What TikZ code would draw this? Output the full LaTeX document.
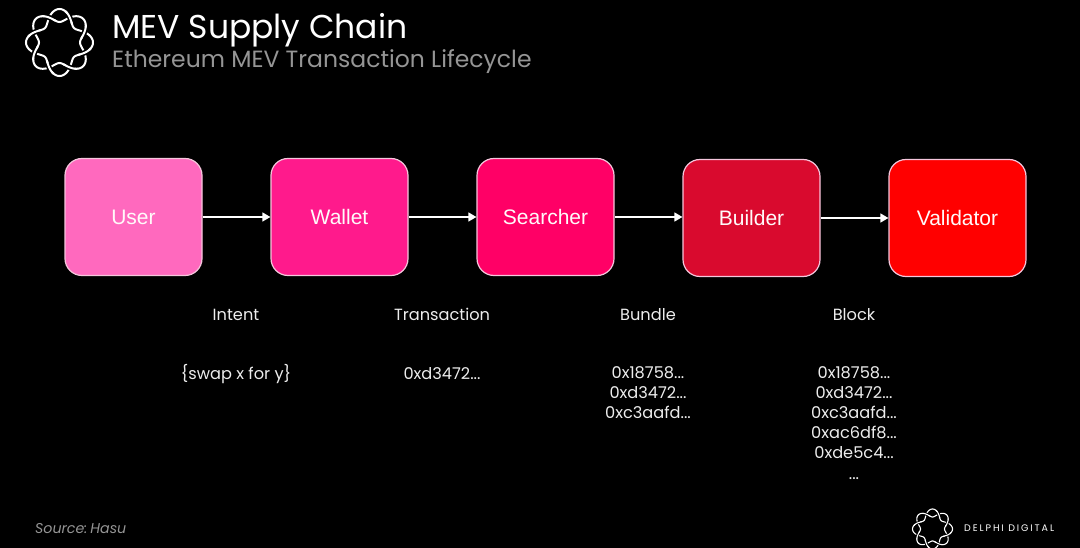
\documentclass[tikz,border=0pt]{standalone}
\usepackage{fontspec}
\setmainfont{Poppins}
\newfontfamily\boxfont{Liberation Sans}
\usetikzlibrary{arrows.meta,positioning}
\definecolor{cuser}{HTML}{FF69BE}
\definecolor{cwallet}{HTML}{FF1A8C}
\definecolor{csearcher}{HTML}{FF0066}
\definecolor{cbuilder}{HTML}{D90A2E}
\definecolor{cvalidator}{HTML}{FF0000}
\definecolor{cedge}{HTML}{F5C6DC}
\definecolor{csub}{HTML}{959595}
\definecolor{clabel}{HTML}{EDEDED}
\tikzset{
  stagebox/.style={draw=cedge,line width=1.2pt,rounded corners=17pt,minimum width=137pt,minimum height=117pt,inner sep=0pt,font=\boxfont\fontsize{21}{24}\selectfont,text=white!92!pink},
  flow/.style={draw=white,line width=1.4pt,-{Triangle[length=8pt,width=9pt]}},
  lbl/.style={text=clabel,font=\fontsize{16.2}{20.1}\selectfont,align=center,inner sep=0pt,anchor=base},
}
% woven ring: #1,#2 centre, #3 mean radius, #4 amplitude, #5 line width
\newcommand{\wovenring}[5]{%
  \draw[white,line width=#5] plot[domain=0:360,samples=145,smooth] ({#1+(#3+#4*cos(4*\x))*cos(\x)},{#2+(#3+#4*cos(4*\x))*sin(\x)});
  \draw[white,line width=#5] plot[domain=0:360,samples=145,smooth] ({#1+(#3-#4*cos(4*\x))*cos(\x)},{#2+(#3-#4*cos(4*\x))*sin(\x)});
  \foreach \c in {22.5,112.5,202.5,292.5}{
    \draw[black,line width=2.6*#5] plot[domain=\c-7:\c+7,samples=8,smooth] ({#1+(#3+#4*cos(4*\x))*cos(\x)},{#2+(#3+#4*cos(4*\x))*sin(\x)});
    \draw[white,line width=#5] plot[domain=\c-12:\c+12,samples=10,smooth] ({#1+(#3+#4*cos(4*\x))*cos(\x)},{#2+(#3+#4*cos(4*\x))*sin(\x)});
    \draw[black,line width=2.6*#5] plot[domain=\c+38:\c+52,samples=8,smooth] ({#1+(#3-#4*cos(4*\x))*cos(\x)},{#2+(#3-#4*cos(4*\x))*sin(\x)});
    \draw[white,line width=#5] plot[domain=\c+33:\c+57,samples=10,smooth] ({#1+(#3-#4*cos(4*\x))*cos(\x)},{#2+(#3-#4*cos(4*\x))*sin(\x)});
  }
}
\begin{document}
\begin{tikzpicture}[x=1pt,y=-1pt]
\path[use as bounding box,fill=black] (0,0) rectangle (1080,548);
\wovenring{59.5}{42.5}{27}{6.5}{2pt}
\wovenring{932.5}{529}{16}{4}{1.1pt}
\node[anchor=west,text=white,font=\fontsize{33}{36}\selectfont,inner sep=0pt] (title) at (112,30) {MEV Supply Chain};
\node[anchor=west,text=csub,font=\fontsize{23.5}{28}\selectfont,inner sep=0pt] (subtitle) at (112,62) {Ethereum MEV Transaction Lifecycle};
\node[stagebox,fill=cuser] (user) at (133.5,217) {User};
\node[stagebox,fill=cwallet] (wallet) at (339.5,217) {Wallet};
\node[stagebox,fill=csearcher] (searcher) at (545.5,217) {Searcher};
\node[stagebox,fill=cbuilder] (builder) at (751.5,218) {Builder};
\node[stagebox,fill=cvalidator] (validator) at (957.5,218) {Validator};
\draw[flow] (user) -- (wallet);
\draw[flow] (wallet) -- (searcher);
\draw[flow] (searcher.east) -- (searcher.east -| builder.west);
\draw[flow] (builder) -- (validator);
\node[lbl] (intent) at (236,320) {Intent};
\node[lbl] (tx) at (442,320) {Transaction};
\node[lbl] (bundle) at (648,320) {Bundle};
\node[lbl] (block) at (854,320) {Block};
\node[lbl] (v1) at (236,379) {\{swap x for y\}};
\node[lbl] (v2) at (442,379) {0xd3472...};
\node[lbl,anchor=north] (v3) at (648,366.5) {0x18758...\\0xd3472...\\0xc3aafd...};
\node[lbl,anchor=north] (v4) at (854,366.5) {0x18758...\\0xd3472...\\0xc3aafd...\\0xac6df8...\\0xde5c4...\\...};
\node[anchor=west,text=csub,font=\itshape\fontsize{14.2}{16}\selectfont,inner sep=0pt] (source) at (35,529) {Source:\kern3pt Hasu};
\node[anchor=west,text=white,font=\fontsize{9.5}{11}\selectfont,inner sep=0pt] (delphi) at (964,528.5) {D\kern1.9pt E\kern1.9pt L\kern1.9pt P\kern1.9pt H\kern1.9pt I\kern4.5pt D\kern1.9pt I\kern1.9pt G\kern1.9pt I\kern1.9pt T\kern1.9pt A\kern1.9pt L};
\end{tikzpicture}
\end{document}
